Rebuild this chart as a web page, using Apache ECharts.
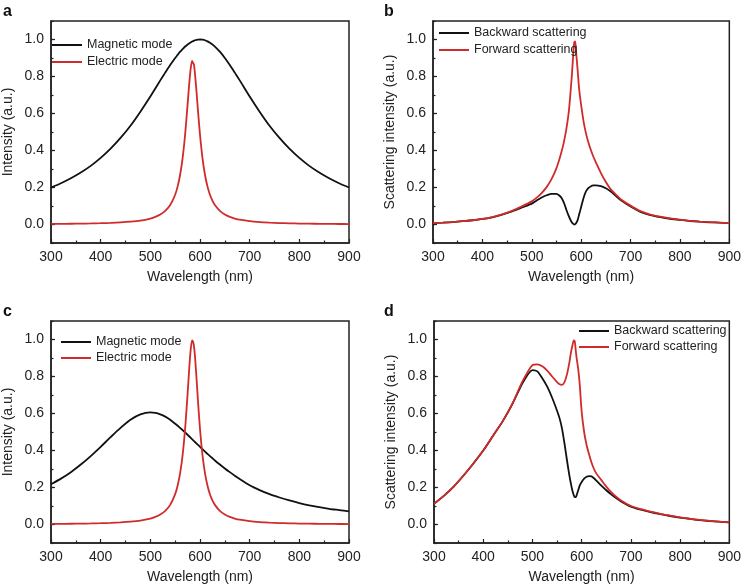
<!DOCTYPE html>
<html>
<head>
<meta charset="utf-8">
<script src="https://cdn.jsdelivr.net/npm/echarts@6/dist/echarts.min.js"></script>
<style>
  html, body { margin: 0; padding: 0; background: #fff; }
  #chart { width: 744px; height: 587px; }
</style>
</head>
<body>
<div id="chart"></div>
<script>
// ---- Data ----
const wavelengths = [300,320,340,360,380,400,420,440,460,480,
  500,510,520,530,540,550,
  555,560,565,570,575,
  578,581,584,586,588,590,593,596,
  600,605,610,615,620,625,630,
  640,650,660,670,680,
  700,720,740,760,780,800,820,840,860,880,900];

// Panel a
const magneticA = [0.200,0.223,0.250,0.281,0.317,0.360,0.410,0.468,0.534,0.610,
  0.692,0.735,0.779,0.821,0.862,0.900,
  0.917,0.934,0.948,0.962,0.973,
  0.979,0.984,0.989,0.991,0.994,0.996,0.998,0.999,
  1.000,0.999,0.996,0.990,0.982,0.973,0.962,
  0.934,0.900,0.862,0.821,0.779,
  0.692,0.610,0.534,0.468,0.410,0.360,0.317,0.281,0.250,0.223,0.200];
const electricA = [0.0030,0.0034,0.0040,0.0047,0.0057,0.0070,0.0088,0.0113,0.0152,0.0213,
  0.0322,0.0409,0.0536,0.0732,0.105,0.161,
  0.206,0.269,0.359,0.485,0.648,
  0.751,0.837,0.884,0.874,0.862,0.811,0.717,0.613,
  0.485,0.359,0.269,0.206,0.161,0.129,0.105,
  0.0732,0.0536,0.0409,0.0322,0.0259,
  0.0179,0.0130,0.0099,0.0078,0.0063,0.0052,0.0043,0.0037,0.0032,0.0028,0.0024];

// Panel b
const backwardB = [0.008,0.010,0.013,0.018,0.023,0.030,0.039,0.053,0.071,0.092,
  0.113,0.130,0.146,0.158,0.166,0.165,
  0.158,0.145,0.118,0.080,0.045,
  0.027,0.012,0.003,0.000,0.002,0.008,0.025,0.055,
  0.095,0.145,0.180,0.198,0.207,0.211,0.212,
  0.207,0.196,0.178,0.155,0.132,
  0.097,0.068,0.051,0.040,0.031,0.025,0.019,0.015,0.012,0.010,0.008];
const forwardB = [0.008,0.010,0.013,0.018,0.023,0.030,0.040,0.055,0.074,0.098,
  0.125,0.145,0.170,0.202,0.245,0.305,
  0.345,0.390,0.445,0.515,0.610,
  0.700,0.800,0.920,0.985,0.990,0.925,0.830,0.730,
  0.645,0.555,0.490,0.440,0.400,0.365,0.335,
  0.278,0.230,0.190,0.162,0.137,
  0.102,0.072,0.054,0.042,0.033,0.026,0.020,0.016,0.013,0.010,0.008];

// Panel c
const magneticC = [0.218,0.248,0.283,0.324,0.370,0.420,0.472,0.522,0.566,0.595,
  0.606,0.603,0.595,0.583,0.566,0.545,
  0.534,0.522,0.510,0.498,0.485,
  0.477,0.469,0.461,0.456,0.451,0.446,0.438,0.430,
  0.420,0.407,0.394,0.382,0.370,0.358,0.346,
  0.324,0.303,0.283,0.264,0.246,
  0.212,0.186,0.164,0.146,0.130,0.116,0.104,0.094,0.085,0.078,0.071];
const electricC = [0.0029,0.0034,0.0040,0.0047,0.0057,0.0070,0.0087,0.0113,0.0151,0.0213,
  0.0321,0.0409,0.0538,0.0735,0.106,0.164,
  0.211,0.278,0.375,0.516,0.706,
  0.830,0.938,0.995,0.988,0.962,0.906,0.789,0.665,
  0.516,0.375,0.278,0.211,0.164,0.130,0.106,
  0.0735,0.0538,0.0409,0.0321,0.0259,
  0.0178,0.0130,0.0099,0.0078,0.0063,0.0052,0.0043,0.0037,0.0032,0.0028,0.0024];

// Panel d
const backwardD = [0.112,0.155,0.205,0.265,0.330,0.400,0.480,0.560,0.655,0.765,
  0.835,0.828,0.790,0.745,0.685,0.615,
  0.575,0.520,0.440,0.350,0.265,
  0.223,0.185,0.158,0.148,0.148,0.160,0.185,0.210,
  0.230,0.248,0.258,0.262,0.260,0.250,0.237,
  0.210,0.185,0.163,0.143,0.125,
  0.097,0.080,0.067,0.056,0.046,0.037,0.030,0.024,0.019,0.015,0.012];
const forwardD = [0.112,0.155,0.205,0.265,0.330,0.400,0.480,0.560,0.657,0.775,
  0.862,0.866,0.855,0.832,0.800,0.770,
  0.758,0.755,0.770,0.810,0.875,
  0.926,0.965,0.995,0.990,0.940,0.895,0.840,0.760,
  0.610,0.500,0.430,0.380,0.335,0.300,0.275,
  0.240,0.205,0.175,0.150,0.130,
  0.100,0.083,0.070,0.058,0.048,0.038,0.031,0.025,0.020,0.015,0.012];

const panelLetters = ['a', 'b', 'c', 'd'];
const yTitles = ['Intensity (a.u.)', 'Scattering intensity (a.u.)', 'Intensity (a.u.)', 'Scattering intensity (a.u.)'];
const xTitle = 'Wavelength (nm)';
const seriesNames = [
  ['Magnetic mode', 'Electric mode'],
  ['Backward scattering', 'Forward scattering'],
  ['Magnetic mode', 'Electric mode'],
  ['Backward scattering', 'Forward scattering']
];
const seriesValues = [
  [magneticA, electricA],
  [backwardB, forwardB],
  [magneticC, electricC],
  [backwardD, forwardD]
];

// ---- Layout / style ----
const FONT = '"Liberation Sans", Arial, Helvetica, sans-serif';
const INK = '#222';
const BLACK = '#111';
const RED = '#d02b2b';
const grids = [
  { left: 51, top: 21, width: 298, height: 222 },
  { left: 433, top: 21, width: 298, height: 222 },
  { left: 51, top: 321, width: 298, height: 222 },
  { left: 434, top: 321, width: 297, height: 222 }
];
const letterPos = [
  { left: 3, top: 4 }, { left: 384, top: 4 }, { left: 3, top: 304 }, { left: 384, top: 304 }
];
const legendPos = [
  { left: 52, top: 38, itemGap: 3 },
  { left: 439, top: 26, itemGap: 3 },
  { left: 61, top: 335, itemGap: 2 },
  { left: 579, top: 324, itemGap: 2 }
];

function pairs(ys) { return wavelengths.map((w, i) => [w, ys[i]]); }

const option = {
  animation: false,
  backgroundColor: '#fff',
  textStyle: { fontFamily: FONT },
  title: panelLetters.map((t, i) => ({
    text: t, left: letterPos[i].left, top: letterPos[i].top, padding: 0,
    textStyle: { fontSize: 16, fontWeight: 'bold', color: BLACK, fontFamily: FONT }
  })),
  legend: seriesNames.map((names, i) => ({
    data: names, orient: 'vertical',
    left: legendPos[i].left, top: legendPos[i].top, itemGap: legendPos[i].itemGap,
    padding: 0, icon: 'rect', itemWidth: 30, itemHeight: 2,
    selectedMode: false,
    textStyle: { fontSize: 12.5, color: INK, fontFamily: FONT, lineHeight: 14 }
  })),
  grid: grids.map(g => Object.assign({ show: true, borderColor: INK, borderWidth: 1.5, backgroundColor: 'transparent', containLabel: false }, g)),
  xAxis: grids.map((g, i) => ({
    type: 'value', gridIndex: i, min: 300, max: 900, interval: 100,
    name: xTitle, nameLocation: 'middle', nameGap: 27,
    nameTextStyle: { fontSize: 14, color: INK, fontFamily: FONT },
    axisLine: { show: true, onZero: false, lineStyle: { color: INK, width: 1.5 } },
    axisTick: { show: true, inside: true, length: 4, lineStyle: { color: INK, width: 1.2 } },
    minorTick: { show: true, splitNumber: 2, length: 2.5, lineStyle: { color: INK, width: 1.2 } },
    splitLine: { show: false },
    minorSplitLine: { show: false },
    axisLabel: { fontSize: 14, color: INK, margin: 7, fontFamily: FONT }
  })),
  yAxis: grids.map((g, i) => ({
    type: 'value', gridIndex: i, min: -0.1, max: 1.1, splitNumber: 6,
    position: 'left',
    name: yTitles[i], nameLocation: 'middle', nameGap: 36,
    nameTextStyle: { fontSize: 14, color: INK, fontFamily: FONT },
    axisLine: { show: true, onZero: false, lineStyle: { color: INK, width: 1.5 } },
    axisTick: { show: true, inside: true, length: 4, lineStyle: { color: INK, width: 1.2 } },
    splitLine: { show: false },
    axisLabel: { fontSize: 14, color: INK, margin: 7, fontFamily: FONT, showMinLabel: false, showMaxLabel: false,
      formatter: v => (Math.abs(v - Math.round(v * 5) / 5) < 1e-6 ? v.toFixed(1) : '') }
  })).concat(grids.map((g, i) => ({
    type: 'value', gridIndex: i, min: -0.1, max: 1.1, interval: 0.1,
    position: 'left', offset: 0,
    axisLine: { show: false },
    axisTick: { show: true, inside: true, length: 2.5, lineStyle: { color: INK, width: 1.2 } },
    axisLabel: { show: false },
    splitLine: { show: false }
  }))),
  series: []
};

seriesValues.forEach((pair, p) => {
  pair.forEach((vals, k) => {
    option.series.push({
      type: 'line', name: seriesNames[p][k],
      xAxisIndex: p, yAxisIndex: p,
      data: pairs(vals),
      showSymbol: false, symbol: 'none',
      smooth: 0.25,
      color: k === 0 ? BLACK : RED,
      lineStyle: { width: 1.8, color: k === 0 ? BLACK : RED },
      z: 2 + k
    });
  });
});

const chart = echarts.init(document.getElementById('chart'), null, { renderer: 'canvas', width: 744, height: 587 });
chart.setOption(option);
</script>
</body>
</html>
